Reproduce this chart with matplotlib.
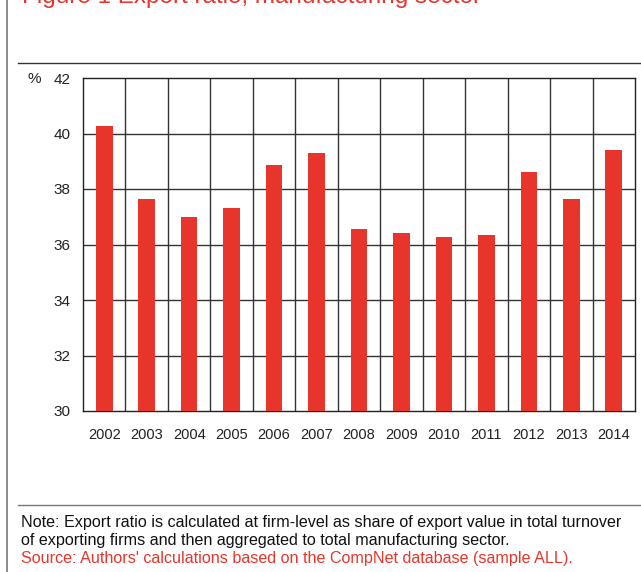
import matplotlib.pyplot as plt
import numpy as np
from matplotlib.lines import Line2D

years = ['2002', '2003', '2004', '2005', '2006', '2007', '2008',
         '2009', '2010', '2011', '2012', '2013', '2014']
export_ratio = [40.28, 37.64, 37.0, 37.32, 38.87, 39.3, 36.56,
                36.43, 36.27, 36.33, 38.6, 37.64, 39.42]
y_ticks = [30, 32, 34, 36, 38, 40, 42]

plt.rcParams['font.family'] = ['Liberation Sans', 'DejaVu Sans']

red = '#e8352b'
fig = plt.figure(figsize=(6.41, 5.72), dpi=100)
ax = fig.add_axes([83/641, 1 - 411/572, (635 - 83)/641, (411 - 78)/572])

x = np.arange(len(years))
ax.bar(x, export_ratio, width=0.39, color=red, zorder=3)

ax.set_xlim(-0.5, len(years) - 0.5)
ax.set_ylim(30, 42)
ax.set_yticks(y_ticks)
ax.set_xticks(x)
ax.set_xticklabels(years, fontsize=10.5, color='#222222')
ax.set_yticklabels([str(t) for t in y_ticks], fontsize=11, color='#222222')
ax.tick_params(length=0)
ax.tick_params(axis='y', pad=9)
ax.tick_params(axis='x', pad=12)

# grid lines
for yv in y_ticks[1:-1]:
    ax.axhline(yv, color='#333333', lw=1.0, zorder=1)
for xv in x[:-1] + 0.5:
    ax.axvline(xv, color='#333333', lw=1.0, zorder=1)
for s in ax.spines.values():
    s.set_color('#222222')
    s.set_linewidth(1.0)

fig.text(27/641, 1 - 79/572, '%', fontsize=11, color='#222222',
         ha='left', va='center')

# title (cropped at top, as in the source page)
fig.text(22/641, 1 - 3/572, 'Figure 1 Export ratio, manufacturing sector',
         fontsize=17.5, color=red, ha='left', va='baseline')

# frame lines
fig.add_artist(Line2D([7/641, 7/641], [0, 1], color='#777777', lw=1.2))
fig.add_artist(Line2D([18/641, 1], [1 - 63/572, 1 - 63/572], color='#333333', lw=1.0))
fig.add_artist(Line2D([18/641, 1], [1 - 505/572, 1 - 505/572], color='#777777', lw=1.0))

note_size = 11.6
fig.text(21/641, 1 - 522/572,
         'Note: Export ratio is calculated at firm-level as share of export value in total turnover',
         fontsize=note_size, color='#111111', ha='left', va='center')
fig.text(21/641, 1 - 540/572,
         'of exporting firms and then aggregated to total manufacturing sector.',
         fontsize=note_size, color='#111111', ha='left', va='center')
fig.text(21/641, 1 - 558/572,
         "Source: Authors' calculations based on the CompNet database (sample ALL).",
         fontsize=note_size, color=red, ha='left', va='center')

fig.savefig('out.png', dpi=100)
